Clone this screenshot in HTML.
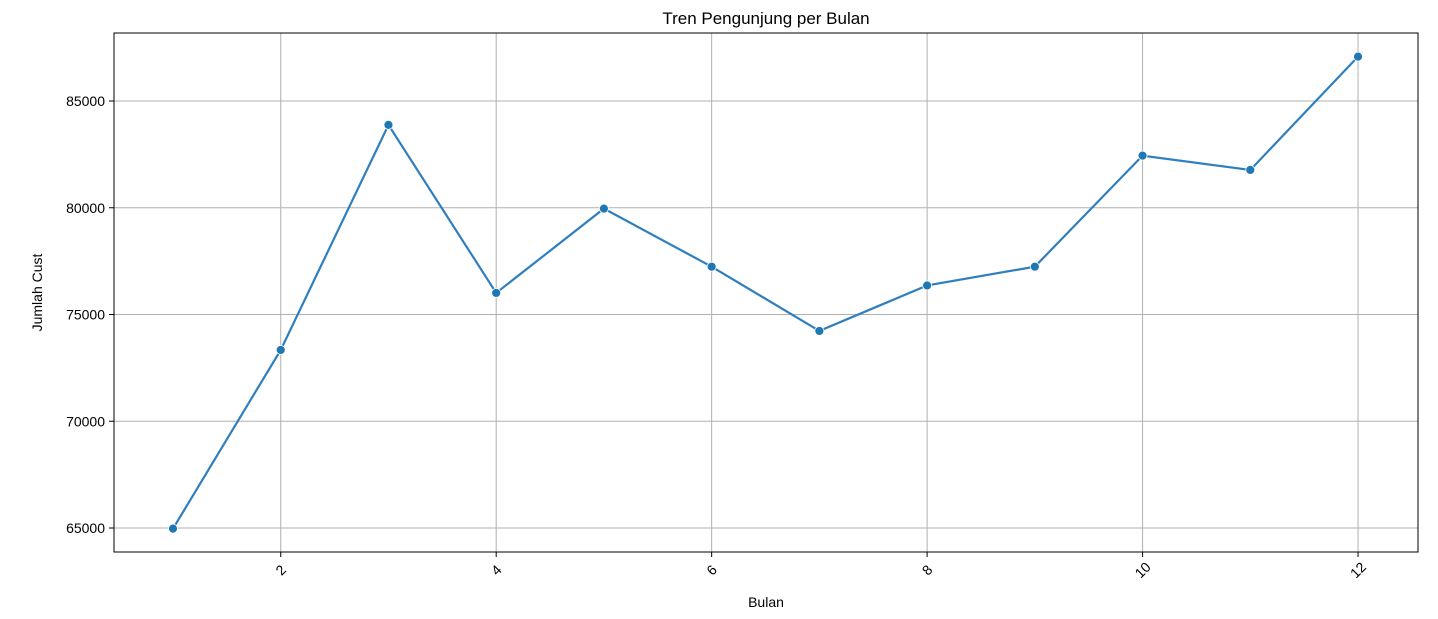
<!DOCTYPE html>
<html><head><meta charset="utf-8"><style>
body{margin:0;background:#fff;}
svg{display:block;font-family:"Liberation Sans","DejaVu Sans",sans-serif;}
</style></head><body>
<svg id="chart" width="1438" height="619" xmlns="http://www.w3.org/2000/svg"></svg>
<script>
const months = [1,2,3,4,5,6,7,8,9,10,11,12];
const visitors = [64970,73340,83880,76010,79960,77240,74230,76360,77240,82440,81770,87080];
const xTicks = [2,4,6,8,10,12];
const yTicks = [65000,70000,75000,80000,85000];
const titleText = "Tren Pengunjung per Bulan";
const xLabel = "Bulan";
const yLabel = "Jumlah Cust";

const NS="http://www.w3.org/2000/svg";
const svg=document.getElementById('chart');
const L=114,R=1418,T=33,B=552;
const xs=v=>173+(v-1)*107.73;
const ys=v=>528-(v-65000)/5000*106.75;
function mk(tag,attrs,parent){const e=document.createElementNS(NS,tag);for(const k in attrs)e.setAttribute(k,attrs[k]);(parent||svg).appendChild(e);return e;}

const grid=mk('g',{});


xTicks.forEach(t=>{
  const l=mk('line',{x1:xs(t),x2:xs(t),y1:T,y2:B,stroke:'#b0b0b0','stroke-width':1},grid);
  
  
  const tk=mk('line',{x1:xs(t),x2:xs(t),y1:B,y2:B+5,stroke:'#000','stroke-width':1});
  
  
  const cx=xs(t),cy=B+18;
  const tx=mk('text',{x:cx,y:cy+5,'text-anchor':'middle','font-size':14,fill:'#000',transform:`rotate(-45 ${cx} ${cy})`});
  tx.textContent=t;
  
  
});
yTicks.forEach(t=>{
  const l=mk('line',{x1:L,x2:R,y1:ys(t),y2:ys(t),stroke:'#b0b0b0','stroke-width':1},grid);
  
  
  const tk=mk('line',{x1:L-5,x2:L,y1:ys(t),y2:ys(t),stroke:'#000','stroke-width':1});
  
  
  const tx=mk('text',{x:L-9,y:ys(t)+5,'text-anchor':'end','font-size':14,fill:'#000'});
  tx.textContent=t;
  
  
});
const frame=mk('rect',{x:L,y:T,width:R-L,height:B-T,fill:'none',stroke:'#000','stroke-width':1});



const pts=months.map((m,i)=>xs(m)+','+ys(visitors[i])).join(' ');
const line=mk('polyline',{points:pts,fill:'none',stroke:'#2f7fbf','stroke-width':2.2});


months.forEach((m,i)=>{
  const c=mk('circle',{cx:xs(m),cy:ys(visitors[i]),r:4.5,fill:'#1f77b4',stroke:'#fff','stroke-width':0.8});
  
  
});
const title=mk('text',{x:(L+R)/2,y:24,'text-anchor':'middle','font-size':17,fill:'#000'});
title.textContent=titleText;


const xl=mk('text',{x:(L+R)/2,y:607,'text-anchor':'middle','font-size':14,fill:'#000'});
xl.textContent=xLabel;


const yl=mk('text',{x:42,y:(T+B)/2,'text-anchor':'middle','font-size':14,fill:'#000',transform:`rotate(-90 42 ${(T+B)/2})`});
yl.textContent=yLabel;


</script>
</body></html>
